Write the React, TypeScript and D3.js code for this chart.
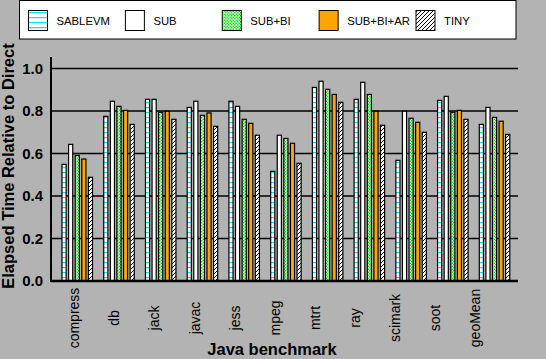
import React from "react";
import * as d3 from "d3";

const categories = ["compress", "db", "jack", "javac", "jess", "mpeg", "mtrt", "ray", "scimark", "soot", "geoMean"];
const seriesNames = ["SABLEVM", "SUB", "SUB+BI", "SUB+BI+AR", "TINY"];
const sablevm = [0.549, 0.775, 0.855, 0.817, 0.846, 0.516, 0.911, 0.855, 0.568, 0.850, 0.737];
const sub = [0.643, 0.846, 0.855, 0.846, 0.822, 0.686, 0.940, 0.935, 0.799, 0.869, 0.817];
const subBi = [0.591, 0.822, 0.794, 0.780, 0.761, 0.671, 0.902, 0.878, 0.766, 0.794, 0.770];
const subBiAr = [0.574, 0.803, 0.799, 0.791, 0.742, 0.648, 0.878, 0.799, 0.747, 0.803, 0.752];
const tiny = [0.488, 0.737, 0.761, 0.728, 0.686, 0.554, 0.841, 0.733, 0.700, 0.761, 0.690];
const seriesValues = [sablevm, sub, subBi, subBiAr, tiny];
const yTicks = [0, 0.2, 0.4, 0.6, 0.8, 1.0];
const fills = ["url(#pSable)", "#ffffff", "url(#pBi)", "#ffa500", "url(#pTiny)"];

export default function App() {
  const W = 546, H = 359;
  const x0 = 51, x1 = 518;
  const y = d3.scaleLinear().domain([0, 1]).range([281, 68.5]);
  const xg = d3.scaleBand().domain(categories).range([61.5, 510.3]).paddingInner(0.245).paddingOuter(0);
  const xs = d3.scaleBand().domain(seriesNames).range([0, xg.bandwidth()]).paddingInner(0.22);
  const xl = d3.scalePoint().domain(categories).range([74.3, 475]);
  const font = "'Liberation Sans', Arial, Helvetica, sans-serif";
  const legendX = d3.scalePoint().domain(seriesNames).range([28.5, 416]);

  return (
    <svg width={W} height={H} style={{ position: "absolute", left: 0, top: 0, display: "block" }}>
      <defs>
        <pattern id="pSable" patternUnits="userSpaceOnUse" width="6" height="5">
          <rect width="6" height="5" fill="#fff" />
          <rect x="0" y="2" width="6" height="1.2" fill="#00e5ee" />
        </pattern>
        <pattern id="pBi" patternUnits="userSpaceOnUse" width="3" height="3">
          <rect width="3" height="3" fill="#fff" />
          <rect x="0" y="0" width="1.5" height="1.5" fill="#00ee00" />
          <rect x="1.5" y="1.5" width="1.5" height="1.5" fill="#00ee00" />
        </pattern>
        <pattern id="pTiny" patternUnits="userSpaceOnUse" width="4" height="4">
          <rect width="4" height="4" fill="#fff" />
          <path d="M-1,1 L1,-1 M0,4 L4,0 M3,5 L5,3" stroke="#000" strokeWidth="1" />
        </pattern>
      </defs>
      <rect width={W} height={H} fill="#b3b3b3" />
      {/* legend */}
      <rect x={19.5} y={0.5} width={496.5} height={38.5} fill="#fff" stroke="#000" strokeWidth={1} />
      {seriesNames.map((s, i) => (
        <g key={s}>
          <rect x={legendX(s)} y={10.5} width={19} height={20} fill={fills[i]} stroke="#000" strokeWidth={1} />
          <text x={(legendX(s) as number) + 28} y={25} fontFamily={font} fontSize={11.3} fill="#000">{s}</text>
        </g>
      ))}
      {/* grid */}
      {yTicks.slice(1).map((t) => (
        <line key={t} x1={x0} x2={x1} y1={y(t)} y2={y(t)} stroke="#000" strokeWidth={1.3} />
      ))}
      {/* bars */}
      {categories.map((c, ci) => (
        <g key={c}>
          {seriesNames.map((s, si) => {
            const v = seriesValues[si][ci];
            const bx = (xg(c) as number) + (xs(s) as number);
            return (
              <rect key={s} x={bx + 0.5} y={y(v)} width={xs.bandwidth() - 1} height={y(0) - y(v)}
                fill={fills[si]} stroke="#000" strokeWidth={1.2} />
            );
          })}
        </g>
      ))}
      {/* axes */}
      <line x1={x0} x2={x0} y1={57} y2={282} stroke="#000" strokeWidth={2} />
      <line x1={x0} x2={x1} y1={y(0)} y2={y(0)} stroke="#000" strokeWidth={2.5} />
      {yTicks.map((t) => (
        <text key={t} x={43} y={y(t)} dy="0.36em" textAnchor="end" fontFamily={font} fontWeight="bold" fontSize={15} fill="#000">
          {d3.format(".1f")(t)}
        </text>
      ))}
      {categories.map((c) => (
        <text key={c} transform={`translate(${(xl(c) as number) + 5},318) rotate(-90)`} textAnchor="middle"
          fontFamily={font} fontSize={14} fill="#000">{c}</text>
      ))}
      <text x={272} y={355} textAnchor="middle" fontFamily={font} fontWeight="bold" fontSize={16.5} fill="#000">Java benchmark</text>
      <text transform="translate(14,166) rotate(-90)" textAnchor="middle" fontFamily={font} fontWeight="bold" fontSize={16.5} fill="#000">
        Elapsed Time Relative to Direct
      </text>
    </svg>
  );
}
